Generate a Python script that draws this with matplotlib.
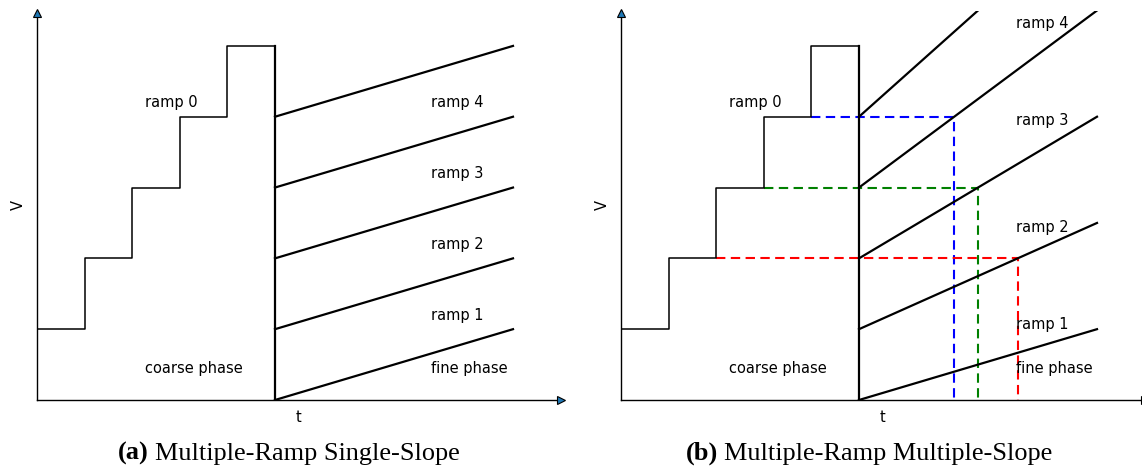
import matplotlib
matplotlib.use("Agg")
import matplotlib.pyplot as plt
import numpy as np

# coarse staircase: one level per time unit, then drop back to zero at t=5
step_t = [0, 1, 2, 3, 4, 5]
step_v = [1, 2, 3, 4, 5]
t_coarse_end = 5
t_fine_end = 10

# fine ramps start at the coarse levels 0..4
ramp_start = [0, 1, 2, 3, 4]
slopes_single = [0.2, 0.2, 0.2, 0.2, 0.2]
slopes_multi = [0.2, 0.3, 0.4, 0.5, 0.6]

# coarse levels that get a dashed crossing marker in (b)
cross_levels = [4, 3, 2]
cross_colors = ["b", "g", "r"]

labels_a = [("ramp 4", 4.2), ("ramp 3", 3.2), ("ramp 2", 2.2),
            ("ramp 1", 1.2), ("fine phase", 0.44)]
labels_b = [("ramp 4", 5.32), ("ramp 3", 3.94), ("ramp 2", 2.44),
            ("ramp 1", 1.06), ("fine phase", 0.44)]

XMAX, YMAX = 11, 5.5

fig = plt.figure(figsize=(11.42, 4.70), dpi=100)
ax_a = fig.add_axes([37 / 1142, 70 / 470, 523.6 / 1142, 389.5 / 470])
ax_b = fig.add_axes([621 / 1142, 70 / 470, 523.6 / 1142, 389.5 / 470])


def draw_frame(ax):
    ax.set_xlim(0, XMAX)
    ax.set_ylim(0, YMAX)
    for s in ax.spines.values():
        s.set_visible(False)
    ax.set_xticks([])
    ax.set_yticks([])
    ax.plot([0, XMAX], [0, 0], color="k", lw=1.0, clip_on=False, zorder=4)
    ax.plot([0, 0], [0, YMAX - 0.03], color="k", lw=1.0, clip_on=False, zorder=4)
    ax.plot([XMAX], [0], marker=">", ms=5.5, mfc="C0", mec="k", mew=0.8,
            clip_on=False, zorder=5)
    ax.plot([0], [YMAX - 0.03], marker="^", ms=5.5, mfc="C0", mec="k", mew=0.8,
            clip_on=False, zorder=5)
    ax.set_xlabel("t", fontsize=10.5, labelpad=7)
    ax.set_ylabel("V", fontsize=10.5, labelpad=8)


def draw_stairs(ax):
    xs, ys = [], []
    for i, v in enumerate(step_v):
        xs += [step_t[i], step_t[i + 1]]
        ys += [v, v]
    xs.append(t_coarse_end)
    ys.append(0)
    ax.plot(xs, ys, color="k", lw=1.1, zorder=3)
    ax.plot([t_coarse_end, t_coarse_end], [0, step_v[-1]], color="k", lw=1.6, zorder=3)


def draw_ramps(ax, slopes):
    t = np.array([t_coarse_end, t_fine_end])
    for v0, k in zip(ramp_start, slopes):
        ax.plot(t, v0 + k * (t - t_coarse_end), color="k", lw=1.6, zorder=3)


for ax in (ax_a, ax_b):
    draw_frame(ax)
    draw_stairs(ax)
    ax.text(2.27, 4.2, "ramp 0", fontsize=10.5, va="center")
    ax.text(2.27, 0.44, "coarse phase", fontsize=10.5, va="center")

draw_ramps(ax_a, slopes_single)
draw_ramps(ax_b, slopes_multi)

for txt, y in labels_a:
    ax_a.text(8.28, y, txt, fontsize=10.5, va="center")
for txt, y in labels_b:
    ax_b.text(8.3, y, txt, fontsize=10.5, va="center")

# level v meets the ramp started one level below
for lvl, c in zip(cross_levels, cross_colors):
    k = slopes_multi[ramp_start.index(lvl - 1)]
    tc = t_coarse_end + 1 / k
    ax_b.plot([step_t[lvl], tc, tc], [lvl, lvl, 0], color=c, lw=1.5,
              ls=(0, (4.5, 2.6)), zorder=2)

# sub-captions, bold tag followed by regular text
fig.canvas.draw()
r = fig.canvas.get_renderer()
for x0, tag, rest in [(118, "(a)", "Multiple-Ramp Single-Slope"),
                      (686, "(b)", "Multiple-Ramp Multiple-Slope")]:
    t1 = fig.text(x0 / 1142, 0.035, tag, family="Liberation Serif",
                  weight="bold", fontsize=18.9, va="center")
    w = t1.get_window_extent(r).width
    fig.text((x0 + w + 6) / 1142, 0.035, rest, family="Liberation Serif",
             fontsize=18.9, va="center")

fig.savefig("out.png", dpi=100)
